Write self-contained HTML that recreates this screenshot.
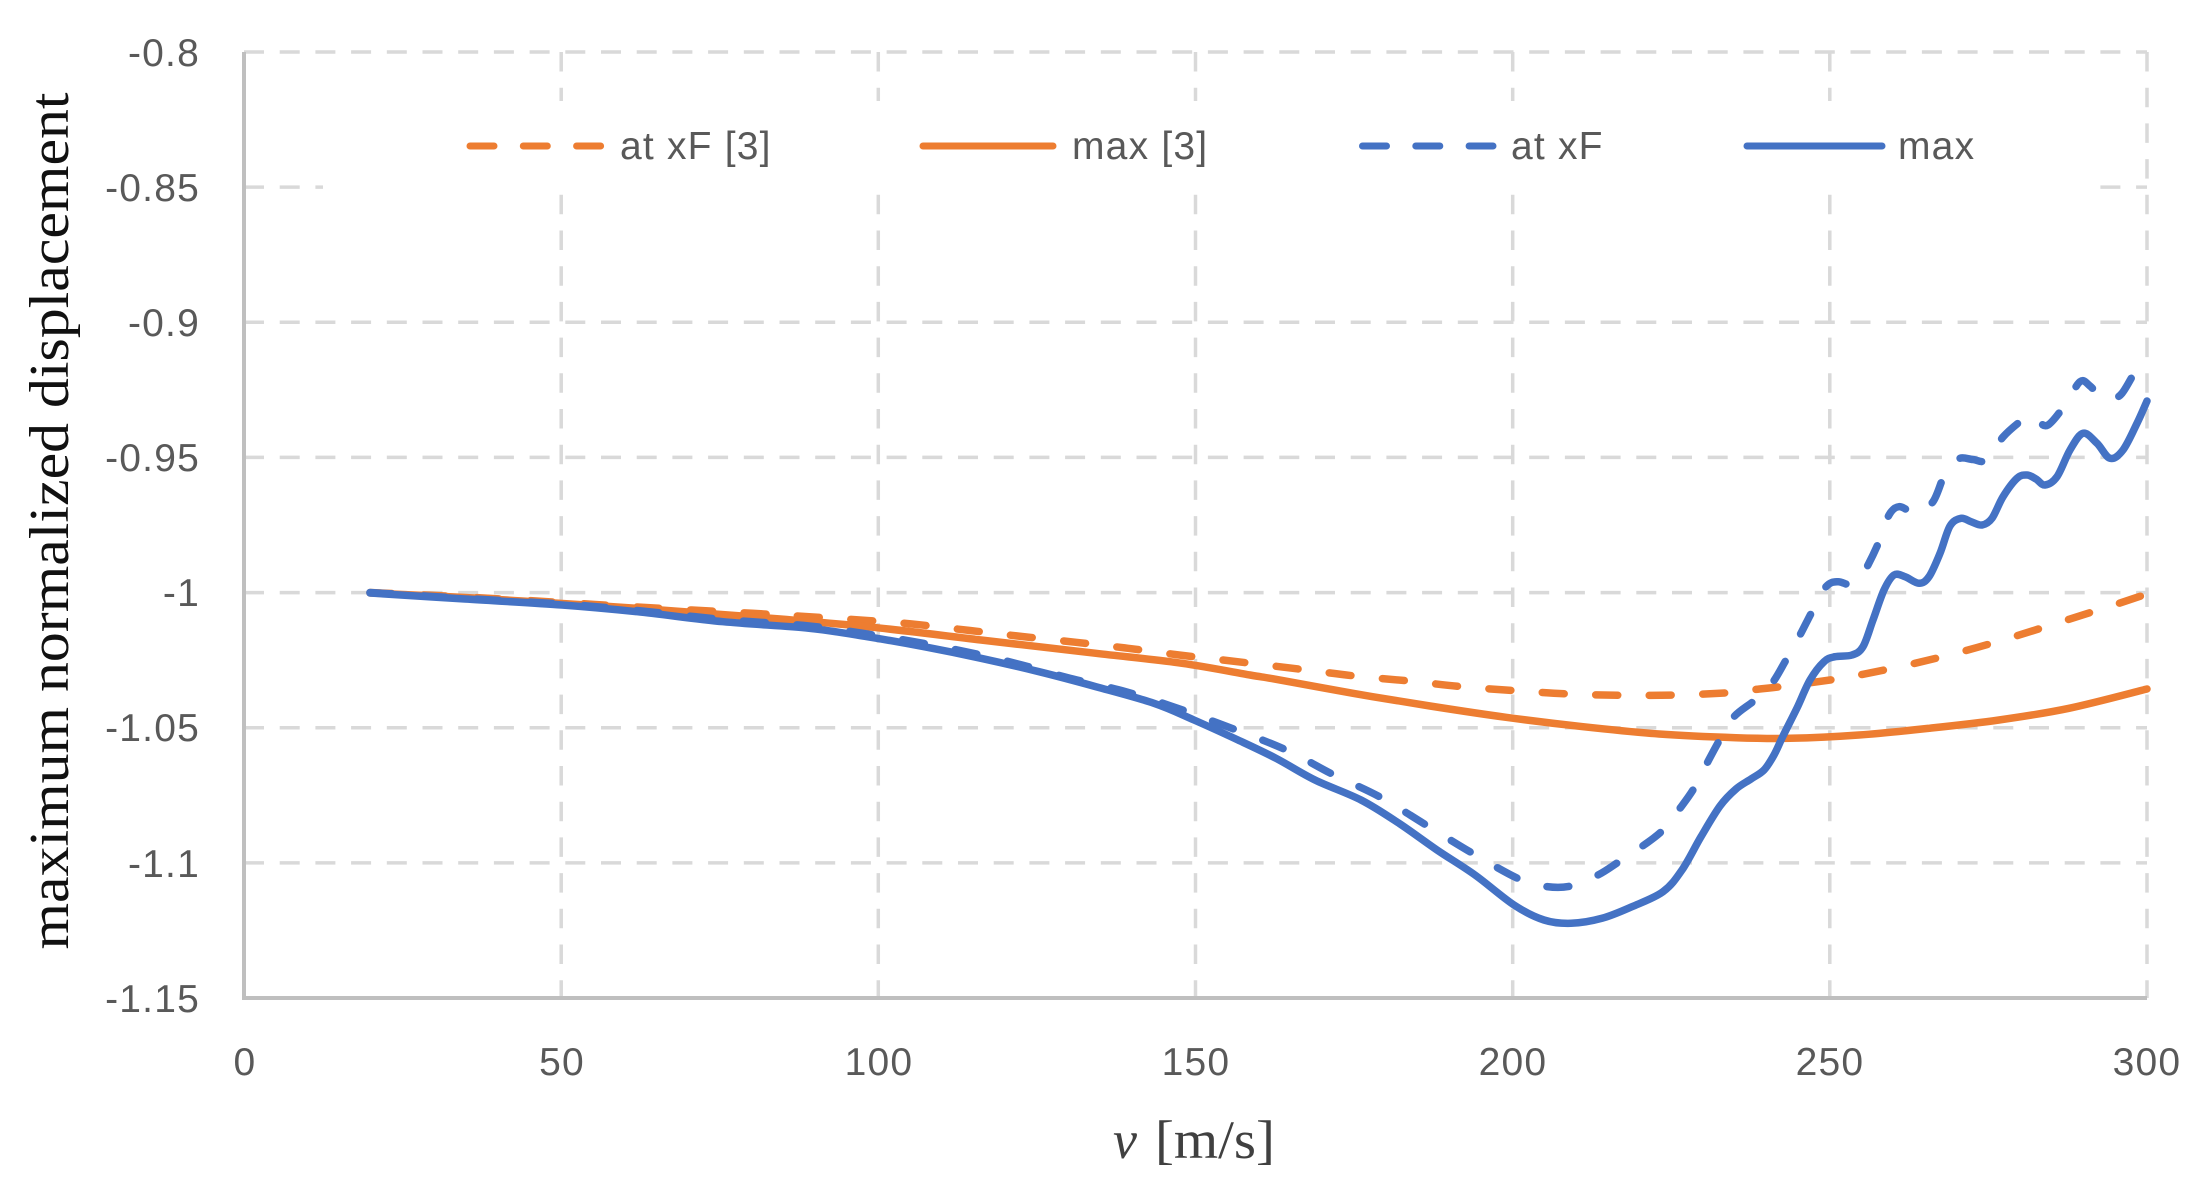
<!DOCTYPE html>
<html>
<head>
<meta charset="utf-8">
<style>
  html,body{margin:0;padding:0;background:#fff;}
  svg{display:block;}
  .tick{font-family:"Liberation Sans",Arial,sans-serif;font-size:39px;fill:#595959;letter-spacing:1.2px;}
  .leg{font-family:"Liberation Sans",Arial,sans-serif;font-size:39px;fill:#595959;letter-spacing:1.2px;}
</style>
</head>
<body>
<svg id="chart" width="2197" height="1188" viewBox="0 0 2197 1188" xmlns="http://www.w3.org/2000/svg">
  <rect x="0" y="0" width="2197" height="1188" fill="#ffffff"/>

  <!-- horizontal gridlines -->
  <g stroke="#d9d9d9" stroke-width="3.5" stroke-dasharray="20 15.7" fill="none">
    <path d="M244 52H2147"/>
    <path d="M244 187.1H2147"/>
    <path d="M244 322.3H2147"/>
    <path d="M244 457.4H2147"/>
    <path d="M244 592.6H2147"/>
    <path d="M244 727.7H2147"/>
    <path d="M244 862.9H2147"/>
  </g>
  <!-- vertical gridlines -->
  <g stroke="#d9d9d9" stroke-width="3.5" stroke-dasharray="19.5 16.2" fill="none">
    <path d="M561.2 52V998"/>
    <path d="M878.3 52V998"/>
    <path d="M1195.5 52V998"/>
    <path d="M1512.7 52V998"/>
    <path d="M1829.8 52V998"/>
    <path d="M2147 52V998"/>
  </g>

  <!-- legend background -->
  <rect x="323" y="101" width="1775" height="88" fill="#ffffff"/>

  <!-- axes -->
  <path d="M244 52V998H2147" stroke="#bfbfbf" stroke-width="4" fill="none"/>

  <!-- y tick labels -->
  <g class="tick" text-anchor="end">
    <text x="200" y="66">-0.8</text>
    <text x="200" y="201">-0.85</text>
    <text x="200" y="336">-0.9</text>
    <text x="200" y="471">-0.95</text>
    <text x="200" y="606">-1</text>
    <text x="200" y="741">-1.05</text>
    <text x="200" y="877">-1.1</text>
    <text x="200" y="1012">-1.15</text>
  </g>
  <!-- x tick labels -->
  <g class="tick" text-anchor="middle">
    <text x="245" y="1075">0</text>
    <text x="562" y="1075">50</text>
    <text x="879" y="1075">100</text>
    <text x="1196" y="1075">150</text>
    <text x="1513" y="1075">200</text>
    <text x="1830" y="1075">250</text>
    <text x="2147" y="1075">300</text>
  </g>

  <!-- axis titles -->
  <text transform="translate(68,521) rotate(-90)" text-anchor="middle" font-family="Liberation Serif, serif" font-size="56" fill="#111" textLength="857" lengthAdjust="spacingAndGlyphs">maximum normalized displacement</text>
  <text x="1113" y="1158" font-family="Liberation Serif, serif" font-size="54" font-style="italic" fill="#404040">v</text>
  <text x="1155" y="1158" font-family="Liberation Serif, serif" font-size="54" fill="#404040" textLength="120" lengthAdjust="spacingAndGlyphs">[m/s]</text>

  <!-- series: at xF [3] (orange dashed) -->
  <polyline class="smooth" fill="none" stroke="#ED7D31" stroke-width="7.5" stroke-linecap="round" stroke-linejoin="round" stroke-dasharray="22 31.5"
    points="370,592.5 465,597 562,602.5 637,607 752,613.3 809,616.7 867,620.5 912,624 970,630.5 1022,636.5 1076,642.3 1128,648.3 1179,655 1223,660 1301,669.3 1355,676 1409,681 1462,686.7 1516,690.7 1569,694 1623,695.3 1676,695 1730,692.7 1755,689.5 1782,686.5 1835,679.3 1863,674.3 1915,663.3 1968,650 2016,636 2069,619.3 2119,603.3 2147,594"/>

  <!-- series: max [3] (orange solid) -->
  <polyline class="smooth" fill="none" stroke="#ED7D31" stroke-width="7.5" stroke-linecap="round" stroke-linejoin="round"
    points="370,593 465,597.5 522,601 637,608.3 752,616.7 867,626.7 981,640 1096,653.3 1182,663.3 1250,675 1276,679.3 1353,693.3 1430,706 1506,717.3 1583,726.7 1659,734 1736,737.7 1790,738.3 1859,735 1929,728.3 1999,720 2069,708.3 2147,689"/>

  <!-- series: at xF (blue dashed) -->
  <polyline class="smooth" fill="none" stroke="#4472C4" stroke-width="7.5" stroke-linecap="round" stroke-linejoin="round" stroke-dasharray="22 31.5"
    points="370,592.5 465,598.5 562,604 637,610.5 723,619.5 809,626 867,634 924,643.5 981,655 1022,665 1067,677.5 1125,691.5 1171,706 1215,722 1284,749 1332,774 1380,797 1426,825 1472,853 1519,879 1546,886.5 1571,886 1598,875 1619,861.7 1644,845 1663,830 1680,808.3 1694,788.3 1707,763.3 1720,739.3 1734,716.7 1755,700 1772,683.3 1786,660 1800,635 1812,611.7 1826,586.7 1838,581.7 1851,585 1860,578 1868,565 1879,541.7 1889,515 1899,506.7 1912,512.7 1918,513 1933,501.7 1943,478.3 1950,468 1960,458.3 1973,459.5 1987,460 2003,437 2022,420 2030,415 2038,421 2048,425 2065,405 2080,381.7 2090,386 2102,398.3 2112,399 2122,393.3 2135,371.7 2147,352"/>

  <!-- series: max (blue solid) -->
  <polyline class="smooth" fill="none" stroke="#4472C4" stroke-width="7.5" stroke-linecap="round" stroke-linejoin="round"
    points="370,593 465,599 562,605 637,611.7 723,621.7 809,628.3 867,636.7 924,646.7 981,658.3 1039,671.7 1096,686.7 1154,703.3 1194,720 1238,740 1276,758.3 1315,780 1361,800 1399,823.3 1437,850 1475,875 1514,905 1544,920 1571,923.3 1602,918.3 1632,906.7 1663,891.7 1682,870 1701,836.7 1720,806 1736,789 1751,779 1764,770 1774,755 1783,736 1797,708 1810,680 1824,661.7 1835,656.7 1852,655 1863,646.7 1873,620 1884,590 1894,575 1905,576.7 1919,583.3 1929,576.7 1940,553.3 1950,526 1961,518.3 1971,521.7 1982,525 1992,518.3 2003,496.7 2017,478.3 2027,475 2036,479 2045,485 2057,476.7 2070,450 2083,433.3 2097,443.3 2110,458.3 2123,450 2137,423.3 2147,401"/>

  <!-- legend -->
  <line x1="470" y1="146" x2="601" y2="146" stroke="#ED7D31" stroke-width="7" stroke-linecap="round" stroke-dasharray="24 29.3"/>
  <text class="leg" x="620" y="159">at xF [3]</text>
  <line x1="923" y1="146" x2="1053" y2="146" stroke="#ED7D31" stroke-width="7" stroke-linecap="round"/>
  <text class="leg" x="1072" y="159">max [3]</text>
  <line x1="1362.5" y1="146" x2="1493" y2="146" stroke="#4472C4" stroke-width="7" stroke-linecap="round" stroke-dasharray="24 29.3"/>
  <text class="leg" x="1511" y="159">at xF</text>
  <line x1="1747" y1="146" x2="1882" y2="146" stroke="#4472C4" stroke-width="7" stroke-linecap="round"/>
  <text class="leg" x="1898" y="159">max</text>
</svg>
<script>
(function(){
  var NS="http://www.w3.org/2000/svg";
  var polys=document.querySelectorAll("polyline.smooth");
  for(var i=0;i<polys.length;i++){
    var pl=polys[i];
    var raw=pl.getAttribute("points").trim().split(/\s+/);
    var p=raw.map(function(s){var a=s.split(",");return [parseFloat(a[0]),parseFloat(a[1])];});
    var d="M"+p[0][0]+" "+p[0][1];
    for(var k=0;k<p.length-1;k++){
      var p0=p[k-1]||p[k], p1=p[k], p2=p[k+1], p3=p[k+2]||p[k+1];
      var c1x=p1[0]+(p2[0]-p0[0])/6, c1y=p1[1]+(p2[1]-p0[1])/6;
      var c2x=p2[0]-(p3[0]-p1[0])/6, c2y=p2[1]-(p3[1]-p1[1])/6;
      d+=" C"+c1x.toFixed(2)+" "+c1y.toFixed(2)+" "+c2x.toFixed(2)+" "+c2y.toFixed(2)+" "+p2[0]+" "+p2[1];
    }
    var path=document.createElementNS(NS,"path");
    var attrs=["fill","stroke","stroke-width","stroke-linecap","stroke-linejoin","stroke-dasharray"];
    for(var j=0;j<attrs.length;j++){var v=pl.getAttribute(attrs[j]);if(v!==null)path.setAttribute(attrs[j],v);}
    path.setAttribute("d",d);
    pl.parentNode.replaceChild(path,pl);
  }
})();
</script>
</body>
</html>
